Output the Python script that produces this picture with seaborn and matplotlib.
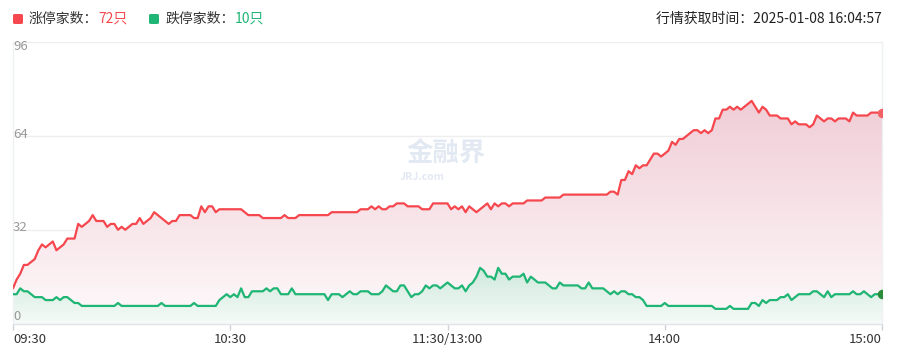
import numpy as np
import pandas as pd
import seaborn as sns
import matplotlib
matplotlib.use("Agg")
import matplotlib.pyplot as plt
from matplotlib.colors import LinearSegmentedColormap
from matplotlib.patches import FancyBboxPatch
from matplotlib.transforms import offset_copy

# ---------------- data (per-minute counts, 09:30 .. 11:30 | 13:01 .. 15:00) ----------------
limit_up = [
    12, 15, 17, 20, 20, 21, 22, 25, 27, 26,
    27, 28, 25, 26, 27, 29, 29, 29, 34, 33,
    34, 35, 37, 35, 35, 35, 33, 34, 34, 32,
    33, 32, 33, 34, 34, 36, 34, 35, 36, 38,
    37, 36, 35, 34, 35, 35, 37, 37, 37, 37,
    36, 36, 40, 38, 40, 40, 38, 39, 39, 39,
    39, 39, 39, 39, 38, 37, 37, 37, 37, 36,
    36, 36, 36, 36, 36, 37, 36, 36, 36, 37,
    37, 37, 37, 37, 37, 37, 37, 37, 38, 38,
    38, 38, 38, 38, 38, 38, 39, 39, 39, 40,
    39, 40, 39, 39, 40, 40, 41, 41, 41, 40,
    40, 40, 40, 39, 39, 39, 41, 41, 41, 41,
    41, 39, 40, 39, 40, 38, 40, 39, 38, 39,
    40, 41, 39, 41, 40, 41, 41, 40, 41, 41,
    41, 41, 42, 42, 42, 42, 42, 43, 43, 43,
    43, 43, 44, 44, 44, 44, 44, 44, 44, 44,
    44, 44, 44, 44, 44, 45, 45, 44, 49, 49,
    52, 51, 54, 53, 54, 54, 56, 58, 58, 57,
    58, 59, 62, 61, 63, 63, 64, 65, 66, 66,
    65, 66, 65, 66, 70, 70, 73, 73, 74, 73,
    74, 73, 74, 75, 76, 74, 72, 74, 73, 71,
    71, 71, 70, 70, 70, 68, 69, 68, 68, 68,
    67, 68, 71, 70, 69, 70, 70, 69, 70, 70,
    70, 69, 72, 71, 71, 71, 71, 72, 72, 72,
    72,
]
limit_down = [
    10, 10, 12, 11, 11, 10, 9, 9, 9, 8,
    8, 8, 9, 8, 9, 9, 8, 7, 7, 6,
    6, 6, 6, 6, 6, 6, 6, 6, 6, 7,
    6, 6, 6, 6, 6, 6, 6, 6, 6, 6,
    6, 7, 6, 6, 6, 6, 6, 6, 6, 6,
    7, 6, 6, 6, 6, 6, 6, 8, 9, 10,
    9, 10, 9, 12, 9, 9, 11, 11, 11, 11,
    12, 11, 12, 12, 10, 10, 10, 12, 10, 10,
    10, 10, 10, 10, 10, 10, 10, 8, 10, 10,
    10, 9, 10, 11, 10, 10, 11, 11, 11, 10,
    10, 10, 11, 13, 12, 11, 11, 13, 13, 11,
    9, 10, 10, 11, 13, 12, 13, 13, 12, 13,
    14, 13, 12, 12, 13, 11, 13, 14, 16, 19,
    18, 16, 16, 15, 19, 17, 17, 15, 16, 16,
    16, 17, 14, 16, 15, 14, 14, 14, 13, 12,
    12, 14, 13, 13, 13, 13, 13, 12, 12, 14,
    12, 12, 12, 12, 11, 10, 11, 10, 11, 11,
    10, 10, 9, 9, 8, 6, 6, 6, 6, 6,
    7, 6, 6, 6, 6, 6, 6, 6, 6, 6,
    6, 6, 6, 6, 5, 5, 5, 5, 6, 5,
    5, 5, 5, 5, 7, 7, 6, 8, 7, 8,
    8, 8, 9, 9, 10, 8, 9, 10, 10, 10,
    10, 11, 11, 10, 9, 11, 9, 10, 10, 10,
    10, 10, 11, 10, 10, 11, 10, 9, 10, 10,
    10,
]
tick_pos = [0, 60, 120, 180, 240]
tick_labels = ["09:30", "10:30", "11:30/13:00", "14:00", "15:00"]
y_ticks = [0, 32, 64, 96]
up_label, down_label = "涨停家数：", "跌停家数："
up_now, down_now = "72只", "10只"
time_text = "行情获取时间：2025-01-08 16:04:57"

# ---------------- style ----------------
RED = "#f5474d"
GREEN = "#1fb574"
W, H = 898, 358

sns.set_theme(style="white")
plt.rcParams["font.family"] = ["Noto Sans CJK SC", "DejaVu Sans"]

df = pd.DataFrame({"t": np.arange(len(limit_up)), "up": limit_up, "down": limit_down})

fig = plt.figure(figsize=(W / 100, H / 100), dpi=100)
ax = fig.add_axes([13 / W, 1 - 323.5 / H, (882 - 13) / W, (323.5 - 42.3) / H])


def gradient_fill(ax, x, y, top, bottom, z):
    poly = ax.fill_between(x, y, 0, facecolor="none", edgecolor="none")
    path = poly.get_paths()[0]
    cmap = LinearSegmentedColormap.from_list("g", [bottom, top])
    grad = np.linspace(0, 1, 256)[:, None]
    im = ax.imshow(grad, extent=[min(x), max(x), 0, max(y)], origin="lower",
                   aspect="auto", cmap=cmap, zorder=z, interpolation="bilinear")
    im.set_clip_path(path, transform=ax.transData)


gradient_fill(ax, df["t"], df["up"], "#f0cdd6", "#fefafb", 1)
gradient_fill(ax, df["t"], df["down"], "#cfe9dc", "#f6fbf8", 2)

sns.lineplot(data=df, x="t", y="up", ax=ax, color=RED, linewidth=1.6,
             estimator=None, zorder=4)
sns.lineplot(data=df, x="t", y="down", ax=ax, color=GREEN, linewidth=1.6,
             estimator=None, zorder=4)
ax.scatter([df["t"].iloc[-1]], [df["up"].iloc[-1]], s=34, color="#f26166", zorder=5, clip_on=True)
ax.scatter([df["t"].iloc[-1]], [df["down"].iloc[-1]], s=34, color="#2a8c3a", zorder=5, clip_on=True)

ax.set_xlim(0, 240)
ax.set_ylim(0, 96)
ax.set_xlabel("")
ax.set_ylabel("")

# grid
ax.set_yticks(y_ticks)
ax.yaxis.grid(True, color="#eeeeee", linewidth=1)
ax.set_axisbelow(True)
ax.tick_params(axis="y", left=False, labelleft=False)
ax.spines["top"].set_visible(False)
for s in ["left", "right"]:
    ax.spines[s].set_color("#eef0f4")
    ax.spines[s].set_linewidth(1)
ax.spines["bottom"].set_color("#e2e4ea")
ax.spines["bottom"].set_linewidth(1)

# y labels (inside, grey)
offs = {96: -4, 64: 2, 32: 2, 0: 7}
for v in y_ticks:
    tr = offset_copy(ax.get_yaxis_transform(), fig=fig, x=0, y=offs[v], units="dots")
    ax.text(0.0, v, str(v), transform=tr, ha="left", va="center",
            fontsize=9.5, color="#999999", zorder=6)

# x ticks
ax.set_xticks(tick_pos)
ax.set_xticklabels(tick_labels)
ax.tick_params(axis="x", bottom=True, length=4, width=1, color="#cfd3dc",
               pad=3, labelsize=9.5, labelcolor="#333333")
lbls = ax.get_xticklabels()
lbls[0].set_ha("left")
lbls[-1].set_ha("right")

# watermark
fig.text(446 / W, 1 - 154 / H, "金融界", fontsize=19, fontweight="bold",
         color="#e3e9f3", ha="center", va="center", zorder=0)
fig.text(400 / W, 1 - 177 / H, "JRJ.com", fontsize=7.5, fontweight="bold",
         color="#e3e9f3", ha="left", va="center", zorder=0)


# legend
def px(x, y):
    return x / W, 1 - y / H


for (x0, col) in [(13, RED), (149, GREEN)]:
    fig.patches.append(FancyBboxPatch(px(x0, 24), 10 / W, 10 / H,
                                      boxstyle="round,pad=0,rounding_size=0.003",
                                      transform=fig.transFigure, facecolor=col,
                                      edgecolor="none"))
t1 = fig.text(*px(29, 19), up_label, fontsize=10, color="#333333", ha="left", va="center")
ax.annotate(up_now, xy=(1, 0.5), xycoords=t1, ha="left", va="center",
            fontsize=10, color=RED, annotation_clip=False)
t2 = fig.text(*px(165, 19), down_label, fontsize=10, color="#333333", ha="left", va="center")
ax.annotate(down_now, xy=(1, 0.5), xycoords=t2, ha="left", va="center",
            fontsize=10, color=GREEN, annotation_clip=False)
fig.text(*px(882, 19), time_text, fontsize=10, color="#222222", ha="right", va="center")

fig.savefig("out.png", dpi=100, facecolor="white")
